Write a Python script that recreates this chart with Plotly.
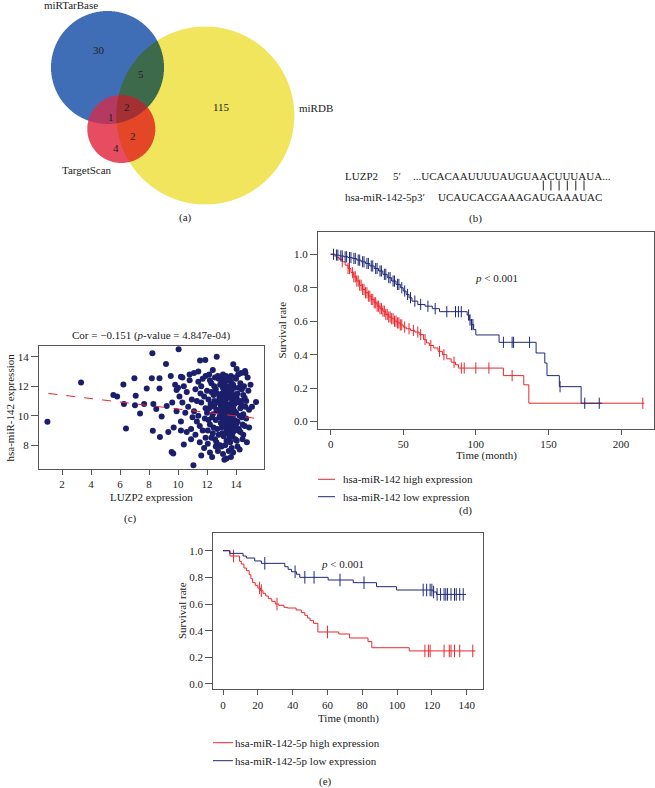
import numpy as np
import plotly.graph_objects as go

W, H = 655, 788
FONT = "Liberation Serif"
RED = "#e8282e"
NAVY = "#1f2878"
INK = "#222222"

# ---- (a) Venn counts ----
venn_labels = ["miRTarBase", "miRDB", "TargetScan"]
venn_counts = ["30", "5", "2", "1", "115", "2", "4"]

# ---- (b) sequences ----
seq_target = "...UCACAAUUUUAUGUAACUUUAUA..."
seq_mirna = "UCAUCACGAAAGAUGAAAUAC"

# ---- (c) scatter: LUZP2 vs hsa-miR-142 expression ----
luzp2 = [
    0.99, 3.31, 5.54, 5.8, 6.23, 6.27, 6.41, 6.99, 7.08, 7.03,
    7.38, 7.66, 7.84, 8.19, 8.26, 8.3, 8.5, 8.72, 8.72, 8.75,
    8.87, 9.22, 9.33, 9.5, 9.56, 9.67, 9.9, 10.2, 10.2, 10.4,
    11.06, 8.23, 10.04, 9.17, 11.52, 11.88, 12.67, 13.81, 14.04, 14.62,
    15.38, 9.6, 9.8, 9.9, 9.7, 10.0, 10.1, 10.3, 10.5, 10.6,
    10.2, 10.8, 10.9, 10.4, 10.7, 10.95, 10.6, 10.3, 10.9, 10.8,
    11.1, 11.2, 11.3, 11.4, 11.5, 11.6, 11.7, 11.8, 11.9, 11.2,
    11.4, 11.6, 11.8, 11.9, 11.3, 11.5, 11.7, 11.1, 11.9, 11.6,
    11.4, 11.0, 11.85, 11.55, 12.0, 12.1, 12.2, 12.3, 12.4, 12.5,
    12.6, 12.7, 12.8, 12.9, 12.05, 12.15, 12.25, 12.35, 12.45, 12.55,
    12.65, 12.75, 12.85, 12.95, 12.1, 12.2, 12.3, 12.4, 12.5, 12.6,
    12.7, 12.8, 12.9, 12.0, 12.4, 12.6, 12.85, 12.3, 12.55, 12.15,
    12.7, 12.95, 12.45, 12.8, 12.2, 12.65, 12.9, 12.35, 12.75, 12.05,
    12.5, 13.0, 13.1, 13.2, 13.3, 13.4, 13.5, 13.6, 13.7, 13.8,
    13.9, 13.05, 13.15, 13.25, 13.35, 13.45, 13.55, 13.65, 13.75, 13.85,
    13.95, 13.0, 13.1, 13.2, 13.3, 13.4, 13.5, 13.6, 13.7, 13.8,
    13.9, 13.0, 13.15, 13.3, 13.45, 13.6, 13.75, 13.9, 13.05, 13.25,
    13.4, 13.55, 13.7, 13.85, 13.1, 13.35, 13.2, 13.5, 13.65, 13.8,
    13.95, 13.1, 13.3, 13.5, 13.7, 13.9, 13.2, 13.4, 13.6, 13.8,
    13.0, 13.25, 13.45, 13.65, 13.85, 13.15, 13.35, 13.55, 13.75, 13.95,
    13.05, 13.3, 13.6, 13.4, 13.7, 13.2, 13.5, 13.8, 13.1, 13.65,
    13.35, 14.0, 14.1, 14.2, 14.3, 14.4, 14.5, 14.6, 14.7, 14.8,
    14.9, 14.05, 14.15, 14.25, 14.35, 14.45, 14.55, 14.65, 14.75, 14.85,
    14.0, 14.1, 14.2, 14.3, 14.4, 14.5, 14.6, 14.1, 14.3, 14.05,
    14.25, 14.4, 14.15, 14.35, 14.5, 14.7, 14.9, 15.1, 15.0, 14.2,
    14.45, 14.0, 14.65, 12.9, 13.0, 13.3, 13.55, 13.75, 12.95, 13.45,
]
mir142 = [
    9.58, 12.26, 11.4, 11.3, 12.12, 10.8, 9.13, 12.54, 11.35, 10.7,
    10.15, 10.8, 11.85, 12.54, 8.97, 10.8, 10.45, 11.85, 12.54, 8.56,
    9.94, 10.65, 8.9, 12.7, 7.53, 7.43, 11.74, 12.65, 9.0, 8.05,
    6.63, 14.24, 14.51, 13.51, 13.74, 13.78, 14.0, 13.49, 13.17, 13.03,
    10.92, 10.9, 12.1, 10.3, 9.2, 11.9, 11.3, 10.9, 10.2, 11.6,
    9.6, 12.4, 9.1, 12.0, 10.6, 11.1, 8.9, 12.6, 8.4, 12.8,
    10.3, 11.8, 9.6, 12.3, 8.2, 10.9, 9.0, 11.3, 12.7, 8.7,
    10.0, 12.0, 7.8, 10.5, 11.0, 9.3, 12.5, 12.9, 8.5, 7.3,
    13.0, 9.9, 9.8, 11.5, 10.2, 11.1, 9.4, 12.2, 8.8, 10.6,
    11.8, 9.1, 12.5, 10.0, 8.1, 12.8, 10.8, 9.9, 11.4, 8.4,
    10.3, 7.6, 11.2, 9.5, 9.7, 7.5, 11.6, 10.1, 12.0, 9.7,
    10.9, 8.7, 12.1, 11.7, 13.1, 7.9, 9.9, 8.5, 12.6, 10.5,
    11.5, 10.7, 9.2, 10.4, 12.4, 8.2, 8.0, 7.2, 12.7, 9.0,
    11.0, 10.5, 9.8, 11.3, 10.1, 12.0, 9.4, 10.8, 11.6, 8.9,
    10.3, 12.6, 8.6, 10.9, 9.0, 11.8, 10.0, 12.3, 9.6, 11.1,
    8.4, 7.9, 11.9, 9.3, 12.7, 10.4, 11.4, 8.2, 10.6, 12.1,
    9.7, 9.2, 10.2, 11.1, 9.9, 9.2, 10.9, 11.9, 11.5, 8.0,
    8.8, 12.5, 7.8, 10.1, 7.4, 7.1, 7.0, 7.6, 7.2, 7.5,
    12.6, 10.7, 9.6, 10.6, 9.4, 10.8, 12.2, 11.5, 11.2, 10.5,
    11.0, 9.9, 10.2, 10.0, 9.2, 11.7, 12.4, 8.5, 8.6, 9.5,
    8.8, 10.5, 10.4, 9.3, 12.0, 10.6, 8.9, 11.4, 12.8, 12.7,
    8.3, 10.2, 11.5, 9.1, 12.2, 10.7, 8.7, 11.2, 9.8, 12.6,
    10.4, 8.3, 12.8, 10.0, 11.0, 9.4, 12.0, 10.6, 8.2, 11.7,
    12.5, 7.9, 10.9, 8.9, 11.8, 10.1, 9.3, 9.6, 10.5, 11.2,
    7.7, 9.9, 9.0, 12.9, 11.4, 11.0, 9.2, 10.6, 12.1, 11.9,
    8.4, 9.4, 12.9, 11.4, 12.3, 11.6, 9.7, 10.3, 10.1, 10.7,
]
fit_x = [1.06, 15.43]
fit_y = [11.51, 9.81]

# ---- (d) KM curves, hsa-miR-142 ----
d_high_t = [0, 2, 4, 6, 8, 10, 12, 14, 16, 18, 20, 22, 24, 26, 28, 30, 32, 34, 36, 38,
            40, 42, 44, 46, 48, 50, 52, 55, 58, 61, 64, 66, 68, 71, 74, 77, 80, 83, 86, 88,
            119, 133, 136.5, 216]
d_high_s = [1.0, 0.99, 0.98, 0.97, 0.955, 0.935, 0.915, 0.89, 0.865, 0.84,
            0.815, 0.79, 0.77, 0.75, 0.73, 0.71, 0.69, 0.675, 0.66, 0.64,
            0.625, 0.615, 0.6, 0.59, 0.578, 0.565, 0.555, 0.545, 0.535, 0.52,
            0.49, 0.47, 0.455, 0.44, 0.42, 0.40, 0.375, 0.355, 0.34, 0.32,
            0.275, 0.22, 0.11, 0.11]
d_high_cens = [8, 12, 13, 15, 16, 17, 18, 19, 20, 21, 22, 23, 24, 25, 26, 27, 28, 29, 30,
               31, 32, 33, 34, 35, 36, 37, 38, 39, 40, 41, 42, 43, 44, 45, 46, 47, 48, 49,
               51, 54, 57, 60, 62, 65, 69, 75, 78, 85, 90, 92, 100, 109, 125, 215]
d_low_t = [0, 3, 6, 9, 12, 15, 18, 21, 24, 27, 30, 33, 36, 39, 42, 45, 48, 50, 52, 54,
           56, 60, 65, 70, 75, 94, 95.5, 97, 98.5, 100, 116, 141.5, 147.5, 149, 157.5,
           172.5, 187]
d_low_s = [1.0, 0.995, 0.99, 0.985, 0.98, 0.975, 0.965, 0.955, 0.945, 0.93,
           0.915, 0.9, 0.88, 0.86, 0.84, 0.82, 0.80, 0.78, 0.76, 0.74,
           0.72, 0.70, 0.69, 0.675, 0.657, 0.637, 0.607, 0.58, 0.55, 0.518,
           0.474, 0.41, 0.35, 0.275, 0.209, 0.11, 0.11]
d_low_cens = [2, 4, 5, 7, 8, 10, 11, 13, 14, 16, 17, 19, 20, 22, 23, 25, 26, 28, 29, 31,
              32, 34, 35, 37, 38, 40, 41, 43, 44, 46, 47, 49, 51, 53, 55, 58, 62, 67, 72,
              80, 86, 88, 90, 95, 96, 97, 98, 119, 125, 126, 137, 158, 175, 185]

# ---- (e) KM curves, hsa-miR-142-5p ----
e_high_t = [0, 4, 9.5, 10.5, 12, 13.5, 15, 16, 17, 18.5, 20, 21.5, 23, 24.5, 26, 28, 30,
            32, 35, 37, 42, 45, 47, 48.5, 50, 52, 54.5, 66.5, 72.7, 83.3, 85.5, 107, 145]
e_high_s = [1.0, 0.96, 0.92, 0.90, 0.87, 0.85, 0.82, 0.79, 0.76, 0.74,
            0.72, 0.70, 0.68, 0.66, 0.64, 0.62, 0.60, 0.59, 0.575, 0.57,
            0.555, 0.535, 0.515, 0.495, 0.475, 0.455, 0.39, 0.375, 0.345, 0.318,
            0.272, 0.248, 0.248]
e_high_cens = [6, 21, 22, 31, 60, 116, 118, 119, 127, 130, 131, 133, 136, 143.5]
e_low_t = [0, 3.8, 11.5, 13.4, 18.2, 22, 35.5, 37.4, 39.3, 42.2, 44.1, 60.4, 74.8, 88.2,
           99.7, 120.8, 122.7, 139.6]
e_low_s = [1.0, 0.98, 0.96, 0.945, 0.923, 0.905, 0.88, 0.86, 0.842, 0.823, 0.80, 0.78,
           0.76, 0.73, 0.705, 0.69, 0.672, 0.672]
e_low_cens = [24, 41.4, 47, 52.3, 67.2, 81, 115, 117, 119, 120, 121, 123, 125, 127, 128,
              129, 131, 133, 134, 136, 138]


def px(x):
    return x / W


def py(y):
    return 1 - y / H


def step_at(times, surv, pts):
    idx = np.searchsorted(np.asarray(times), np.asarray(pts), side="right") - 1
    return np.asarray(surv)[idx]


# Venn drawn as a raster so overlaps get their own colours
IMG_X0, IMG_W, IMG_H = 40, 260, 212
circles = [(107.5, 67.5, 56.5), (205.3, 115.5, 89.0), (121.3, 129.0, 34.0)]
region_rgb = np.array([
    [255, 255, 255], [64, 110, 182], [240, 229, 92], [62, 106, 76],
    [232, 76, 96], [180, 58, 98], [228, 70, 40], [165, 48, 52],
], dtype=float)
ss = 3
gx = IMG_X0 + (np.arange(IMG_W * ss) + 0.5) / ss
gy = (np.arange(IMG_H * ss) + 0.5) / ss
GX, GY = np.meshgrid(gx, gy)
code = np.zeros(GX.shape, dtype=int)
for bit, (cx, cy, r) in enumerate(circles):
    code += ((GX - cx) ** 2 + (GY - cy) ** 2 <= r * r).astype(int) << bit
rgb = region_rgb[code].reshape(IMG_H, ss, IMG_W, ss, 3).mean(axis=(1, 3))
venn_img = np.round(rgb).astype(np.uint8)

fig = go.Figure()
fig.add_trace(go.Image(z=venn_img.tolist(), xaxis="x", yaxis="y", hoverinfo="skip"))

fig.add_trace(go.Scatter(
    x=luzp2, y=mir142, mode="markers", xaxis="x2", yaxis="y2",
    marker=dict(color="#1b1f6b", size=6, line=dict(width=0)),
))
fig.add_trace(go.Scatter(
    x=fit_x, y=fit_y, mode="lines", xaxis="x2", yaxis="y2",
    line=dict(color=RED, width=1, dash="dash"),
))

km = [
    ("x3", "y3", d_high_t, d_high_s, d_high_cens, RED, 8),
    ("x3", "y3", d_low_t, d_low_s, d_low_cens, NAVY, 8),
    ("x4", "y4", e_high_t, e_high_s, e_high_cens, RED, 9),
    ("x4", "y4", e_low_t, e_low_s, e_low_cens, NAVY, 9),
]
for xa, ya, t, s, cens, col, msize in km:
    fig.add_trace(go.Scatter(
        x=t, y=s, mode="lines", xaxis=xa, yaxis=ya, line_shape="hv",
        line=dict(color=col, width=1),
    ))
    fig.add_trace(go.Scatter(
        x=cens, y=step_at(t, s, cens), mode="markers", xaxis=xa, yaxis=ya,
        marker=dict(symbol="line-ns", size=msize, line=dict(color=col, width=1)),
    ))


def axis(x0, x1, rng, tickvals, fmt=None, horiz=True):
    if horiz:
        dom = [px(x0), px(x1)]
    else:
        dom = [py(x1), py(x0)]
    ax = dict(
        domain=dom, range=rng, tickvals=tickvals, showline=True, mirror=True,
        linecolor="#555555", linewidth=1, ticks="outside", ticklen=5 if horiz else 7,
        tickcolor="#555555", tickwidth=1, showgrid=False, zeroline=False,
        tickfont=dict(family=FONT, size=11, color=INK), fixedrange=True,
    )
    if fmt:
        ax["tickformat"] = fmt
    return ax


fig.update_layout(
    width=W, height=H, margin=dict(l=0, r=0, t=0, b=0),
    paper_bgcolor="white", plot_bgcolor="white", showlegend=False,
    xaxis=dict(domain=[px(IMG_X0), px(IMG_X0 + IMG_W)], range=[-0.5, IMG_W - 0.5],
               visible=False, fixedrange=True),
    yaxis=dict(domain=[py(IMG_H), 1], range=[IMG_H - 0.5, -0.5], visible=False,
               fixedrange=True),
    xaxis2=dict(axis(39, 264, [0.41, 15.93], [2, 4, 6, 8, 10, 12, 14]), anchor="y2"),
    yaxis2=dict(axis(346, 469, [6.38, 14.73], [8, 10, 12, 14], horiz=False), anchor="x2"),
    xaxis3=dict(axis(318, 654, [-8.7, 222.7], [0, 50, 100, 150, 200]), anchor="y3"),
    yaxis3=dict(axis(232, 429, [-0.044, 1.133], [0, 0.2, 0.4, 0.6, 0.8, 1.0], ".1f",
                     horiz=False), anchor="x3"),
    xaxis4=dict(axis(213.3, 482.7, [-5.6, 149.2], [0, 20, 40, 60, 80, 100, 120, 140]),
                anchor="y4"),
    yaxis4=dict(axis(532.7, 689.3, [-0.04, 1.135], [0, 0.2, 0.4, 0.6, 0.8, 1.0], ".1f",
                     horiz=False), anchor="x4"),
)

notes = []


def note(x, y, text, anchor="center", angle=0, size=11):
    notes.append(dict(
        x=px(x), y=py(y), xref="paper", yref="paper", text=text, showarrow=False,
        xanchor=anchor, yanchor="middle", textangle=angle, borderpad=0, borderwidth=0,
        font=dict(family=FONT, size=size, color=INK),
    ))


# (a)
note(71, 5, venn_labels[0])
note(299, 108.3, venn_labels[1], "left")
note(87.3, 170, venn_labels[2])
count_pos = [(99, 50), (141, 74), (126.7, 106.7), (111, 117.3), (221.7, 106.7),
             (133.3, 136), (115.7, 148.3)]
for (cx, cy), c in zip(count_pos, venn_counts):
    note(cx, cy, c)
note(185.7, 217.3, "(a)")

# (b)
note(345, 175.7, "LUZP2", "left")
note(393, 175.7, "5′", "left")
note(412.7, 175.7, seq_target, "left")
note(345, 196.7, "hsa-miR-142-5p3′", "left")
note(438.3, 196.7, seq_mirna, "left")
note(475.7, 218, "(b)")
shapes = []
for bx in [543.3, 550.9, 559.1, 567.3, 575.8, 584.0]:
    shapes.append(dict(type="line", xref="paper", yref="paper", x0=px(bx), x1=px(bx),
                       y0=py(180.5), y1=py(190.5), line=dict(color=INK, width=1)))

# (c)
note(151.5, 335, "Cor = −0.151 (<i>p</i>-value = 4.847e-04)")
note(9, 407.5, "hsa-miR-142 expression", angle=-90)
note(151.5, 497, "LUZP2 expression")
note(130, 518.3, "(c)")

# (d)
note(497, 278, "<i>p</i> &lt; 0.001")
note(281, 330.5, "Survival rate", angle=-90)
note(486, 456, "Time (month)")
note(343, 479.3, "hsa-miR-142 high expression", "left")
note(343, 496.7, "hsa-miR-142 low expression", "left")
note(465, 510.7, "(d)")

# (e)
note(342, 564, "<i>p</i> &lt; 0.001")
note(182, 611, "Survival rate", angle=-90)
note(348, 718, "Time (month)")
note(235, 742.7, "hsa-miR-142-5p high expression", "left")
note(235, 760.7, "hsa-miR-142-5p low expression", "left")
note(325.7, 781.7, "(e)")

for x0, x1, y, col in [(318, 335, 479.3, RED), (318, 335, 496.7, NAVY),
                       (213, 233, 742.7, RED), (213, 233, 760.7, NAVY)]:
    shapes.append(dict(type="line", xref="paper", yref="paper", x0=px(x0), x1=px(x1),
                       y0=py(y), y1=py(y), line=dict(color=col, width=1)))

fig.update_layout(annotations=notes, shapes=shapes)

# the page's default body margin would shift the figure by 8px
fig.write_html("out.html", config={"displayModeBar": False},
               post_script="document.body.style.margin='0';")
